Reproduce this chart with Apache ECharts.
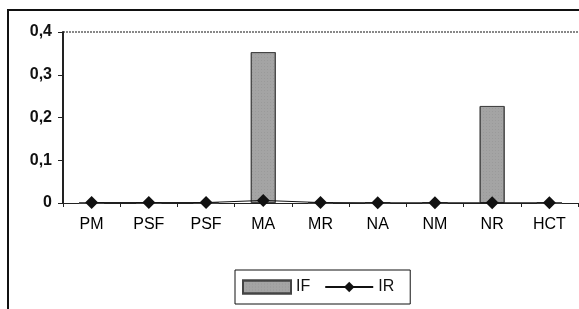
<!DOCTYPE html>
<html>
<head>
<meta charset="utf-8">
<script src="https://cdn.jsdelivr.net/npm/echarts@6/dist/echarts.min.js"></script>
<style>
    html, body { margin: 0; padding: 0; background: #fff; }
    #chart { width: 579px; height: 309px; }
</style>
</head>
<body>
<div id="chart"></div>
<script type="text/javascript">
var categories = ['PM', 'PSF', 'PSF', 'MA', 'MR', 'NA', 'NM', 'NR', 'HCT'];
var ifValues = [0, 0, 0, 0.353, 0, 0, 0, 0.227, 0];
var irValues = [0.001, 0.001, 0.001, 0.006, 0.001, 0.0005, 0.0005, 0.0005, 0.0005];
var yTicks = [0, 0.1, 0.2, 0.3, 0.4];

var chart = echarts.init(document.getElementById('chart'), null, { renderer: 'canvas' });

var option = {
    animation: false,
    backgroundColor: '#fff',
    textStyle: { fontFamily: 'Liberation Sans, Arial, sans-serif' },
    grid: { left: 63, top: 32, right: 1, bottom: 106, show: false },
    // cadre autour du graphique (haut et gauche seulement, le reste est coupé)
    graphic: [{
        type: 'line',
        shape: { x1: 7, y1: 10, x2: 579, y2: 10 },
        style: { stroke: '#111', lineWidth: 2 },
        silent: true
    }, {
        type: 'line',
        shape: { x1: 8, y1: 9, x2: 8, y2: 309 },
        style: { stroke: '#111', lineWidth: 2 },
        silent: true
    }],
    legend: {
        left: 235,
        top: 270,
        padding: [9, 16, 9, 7],
        itemGap: 14,
        itemWidth: 48,
        itemHeight: 13,
        borderColor: '#111',
        borderWidth: 1,
        textStyle: { fontSize: 16, color: '#111', fontFamily: 'Liberation Sans, Arial, sans-serif' },
        data: [{ name: 'IF', icon: 'rect' }, { name: 'IR' }]
    },
    xAxis: {
        type: 'category',
        data: categories,
        axisLine: { onZero: false, lineStyle: { color: '#222', width: 1 } },
        axisTick: { show: true, length: 4, lineStyle: { color: '#222' } },
        axisLabel: { fontSize: 16, color: '#000', margin: 14 },
        splitLine: { show: false }
    },
    yAxis: {
        type: 'value',
        min: yTicks[0],
        max: yTicks[yTicks.length - 1],
        interval: 0.1,
        axisLine: { show: true, lineStyle: { color: '#222', width: 2 } },
        axisTick: { show: true, length: 5, lineStyle: { color: '#222' } },
        // seule la ligne du haut (0,4) est visible, en pointillé gris
        splitLine: {
            show: true,
            lineStyle: {
                color: ['rgba(0,0,0,0)', 'rgba(0,0,0,0)', 'rgba(0,0,0,0)', 'rgba(0,0,0,0)', '#888'],
                type: [2, 1],
                width: 2
            }
        },
        axisLabel: {
            fontSize: 16,
            fontWeight: 'bold',
            color: '#111',
            margin: 11,
            formatter: function (v) { return String(Math.round(v * 10) / 10).replace('.', ','); }
        }
    },
    series: [{
        name: 'IF',
        type: 'bar',
        data: ifValues,
        barWidth: 25,
        itemStyle: {
            color: '#a4a4a4',
            borderColor: '#444',
            borderWidth: 1,
            decal: { symbol: 'rect', symbolSize: 0.5, color: 'rgba(60,60,60,0.35)', dashArrayX: [1, 2], dashArrayY: [1, 2], rotation: 0 }
        }
    }, {
        name: 'IR',
        type: 'line',
        data: irValues,
        symbol: 'diamond',
        symbolSize: 13,
        lineStyle: { color: '#111', width: 1 },
        itemStyle: { color: '#111' }
    }]
};

chart.setOption(option);
</script>
</body>
</html>
